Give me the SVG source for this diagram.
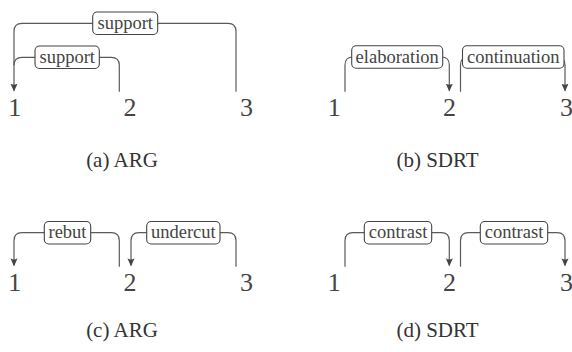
<svg xmlns="http://www.w3.org/2000/svg" width="572" height="352" viewBox="0 0 572 352" font-family="'Liberation Serif', 'DejaVu Serif', 'Noto Serif', Tinos, FreeSerif, 'Nimbus Roman', 'Times New Roman', Times, serif">
<style>
.edge{fill:none;stroke:#5a5a5a;stroke-width:1.2}
.box{fill:#fff;stroke:#444;stroke-width:1.1}
.lbl{font-size:18.5px;fill:#444;text-anchor:middle}
.num{font-size:26px;fill:#444;text-anchor:middle}
.cap{font-size:21px;fill:#333;text-anchor:middle}
</style>
<defs>
<marker id="arr" viewBox="0 0 10 10" refX="9" refY="5" markerWidth="8" markerHeight="8" markerUnits="userSpaceOnUse" orient="auto">
<path d="M0,0.5 L10,5 L0,9.5 Q3,5 0,0.5 Z" fill="#444"/>
</marker>
</defs>
<g id="connectors">
<path class="edge" marker-end="url(#arr)" d="M236,91.7 V31.3 Q236,23.3 228,23.3 H22 Q14,23.3 14,31.3 V90.7"/>
<path class="edge" d="M119.3,91.7 V65.3 Q119.3,57.3 111.3,57.3 H22 Q14,57.3 14,65.3"/>
<path class="edge" d="M345,91.7 V65 Q345,57 353,57 H441.3"/>
<path class="edge" marker-end="url(#arr)" d="M441.3,57 Q449.3,57 449.3,65 V90.7"/>
<path class="edge" d="M460.5,91.7 V65 Q460.5,57 468.5,57 H557"/>
<path class="edge" marker-end="url(#arr)" d="M557,57 Q565,57 565,65 V90.7"/>
<path class="edge" marker-end="url(#arr)" d="M119.3,266.7 V240.7 Q119.3,232.7 111.3,232.7 H22 Q14,232.7 14,240.7 V265.5"/>
<path class="edge" marker-end="url(#arr)" d="M236,266.7 V240.7 Q236,232.7 228,232.7 H139 Q131,232.7 131,240.7 V265.5"/>
<path class="edge" marker-end="url(#arr)" d="M345,266.7 V240.7 Q345,232.7 353,232.7 H441.3 Q449.3,232.7 449.3,240.7 V265.5"/>
<path class="edge" marker-end="url(#arr)" d="M460.5,266.7 V240.7 Q460.5,232.7 468.5,232.7 H557 Q565,232.7 565,240.7 V265.5"/>
</g>
<g id="label-a-support-top"><rect class="box" x="92.7" y="12" width="65" height="22.5" rx="4.5"/><text class="lbl" x="125.2" y="28.8">support</text></g>
<g id="label-a-support-inner"><rect class="box" x="35" y="46" width="64.3" height="22.5" rx="4.5"/><text class="lbl" x="67.2" y="62.8">support</text></g>
<g id="label-b-elaboration"><rect class="box" x="351.7" y="45.7" width="91" height="22.5" rx="4.5"/><text class="lbl" x="397.2" y="62.5">elaboration</text></g>
<g id="label-b-continuation"><rect class="box" x="462.5" y="45.7" width="101.5" height="22.5" rx="4.5"/><text class="lbl" x="513.2" y="62.5">continuation</text></g>
<g id="label-c-rebut"><rect class="box" x="44.3" y="221.5" width="46.4" height="22.5" rx="4.5"/><text class="lbl" x="67.5" y="238.3">rebut</text></g>
<g id="label-c-undercut"><rect class="box" x="146.7" y="221.5" width="73.3" height="22.5" rx="4.5"/><text class="lbl" x="183.3" y="238.3">undercut</text></g>
<g id="label-d-contrast1"><rect class="box" x="364.3" y="221.5" width="67.4" height="22.5" rx="4.5"/><text class="lbl" x="398" y="238.3">contrast</text></g>
<g id="label-d-contrast2"><rect class="box" x="480.3" y="221.5" width="67.4" height="22.5" rx="4.5"/><text class="lbl" x="514" y="238.3">contrast</text></g>
<g id="a-1"><text class="num" x="14.7" y="115.7">1</text></g>
<g id="a-2"><text class="num" x="130" y="115.7">2</text></g>
<g id="a-3"><text class="num" x="246.5" y="115.7">3</text></g>
<g id="b-1"><text class="num" x="334.3" y="115.7">1</text></g>
<g id="b-2"><text class="num" x="449.5" y="115.7">2</text></g>
<g id="b-3"><text class="num" x="566.5" y="115.7">3</text></g>
<g id="c-1"><text class="num" x="14.7" y="290.7">1</text></g>
<g id="c-2"><text class="num" x="130" y="290.7">2</text></g>
<g id="c-3"><text class="num" x="246.5" y="290.7">3</text></g>
<g id="d-1"><text class="num" x="334.3" y="290.7">1</text></g>
<g id="d-2"><text class="num" x="449.5" y="290.7">2</text></g>
<g id="d-3"><text class="num" x="566.5" y="290.7">3</text></g>
<g id="captions">
<text class="cap" x="122" y="167.3">(a) ARG</text>
<text class="cap" x="437.5" y="167.3">(b) SDRT</text>
<text class="cap" x="122" y="337.3">(c) ARG</text>
<text class="cap" x="437.5" y="337.3">(d) SDRT</text>
</g>
</svg>
